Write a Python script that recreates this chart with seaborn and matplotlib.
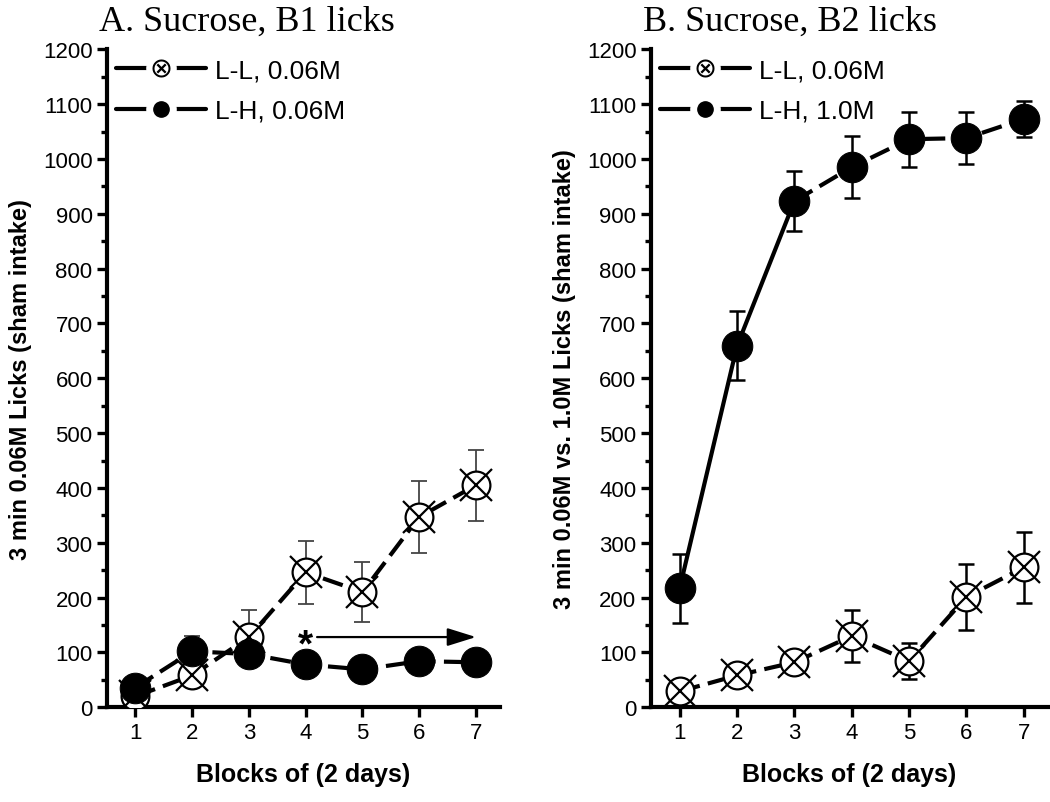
import numpy as np
import pandas as pd
import seaborn as sns
import matplotlib.pyplot as plt
from matplotlib.lines import Line2D
from matplotlib.legend_handler import HandlerTuple
from matplotlib.ticker import MultipleLocator

# blocks of 2 days
blocks = [1, 2, 3, 4, 5, 6, 7]

# panel A, B1 licks
a_ll_mean = [20, 58, 128, 246, 210, 347, 405]
a_ll_sem = [15, 20, 50, 57, 55, 65, 65]
a_lh_mean = [36, 102, 97, 78, 69, 84, 82]
a_lh_sem = [12, 28, 10, 8, 8, 8, 8]

# panel B, B2 licks
b_ll_mean = [29, 58, 82, 130, 84, 201, 255]
b_ll_sem = [15, 17, 10, 48, 33, 60, 64]
b_lh_mean = [217, 659, 923, 985, 1036, 1038, 1073]
b_lh_sem = [63, 63, 55, 57, 50, 48, 33]

titles = ["A. Sucrose, B1 licks", "B. Sucrose, B2 licks"]
ylabels = ["3 min 0.06M Licks (sham intake)",
           "3 min 0.06M vs. 1.0M Licks (sham intake)"]
legend_labels = [["L-L, 0.06M", "L-H, 0.06M"], ["L-L, 0.06M", "L-H, 1.0M"]]

sns.set_theme(style="ticks")
plt.rcParams['font.family'] = ['Liberation Sans', 'DejaVu Sans']
plt.rcParams.update({'text.color': 'black', 'axes.labelcolor': 'black',
                     'axes.edgecolor': 'black', 'xtick.color': 'black',
                     'ytick.color': 'black'})

DASH = (0, (5, 2))
LW = 3.0


def open_markers(ax, x, y):
    sns.lineplot(x=x, y=y, ax=ax, linestyle='none', marker='o', markersize=20,
                 markerfacecolor='white', markeredgecolor='black', markeredgewidth=1.6,
                 zorder=4)
    ax.plot(x, y, linestyle='none', marker='x', markersize=23, color='black',
            markeredgewidth=1.6, zorder=5)


def filled_markers(ax, x, y):
    sns.lineplot(x=x, y=y, ax=ax, linestyle='none', marker='o', markersize=22,
                 markerfacecolor='black', markeredgecolor='black', zorder=4)


def errbars(ax, x, y, e, color, lw):
    ax.errorbar(x, y, yerr=e, fmt='none', ecolor=color, elinewidth=lw,
                capsize=6, capthick=lw, zorder=3)


def style_axis(ax, title, ylabel, labels):
    ax.set_xlim(0.5, 7.42)
    ax.set_ylim(0, 1200)
    ax.set_xticks(blocks)
    ax.set_yticks(range(0, 1201, 100))
    ax.yaxis.set_minor_locator(MultipleLocator(50))
    sns.despine(ax=ax)
    for s in ['left', 'bottom']:
        ax.spines[s].set_linewidth(3)
        ax.spines[s].set_color('black')
    ax.tick_params(axis='both', which='major', direction='out', length=7, width=2.4,
                   labelsize=16, color='black', labelcolor='black')
    ax.tick_params(axis='y', which='minor', direction='out', length=4, width=2.4,
                   color='black')
    ax.set_xlabel("Blocks of (2 days)", fontsize=18, fontweight='bold', labelpad=14)
    ax.set_ylabel(ylabel, fontsize=17, fontweight='bold', labelpad=8)
    ax.set_title(title, loc='left', x=-0.02, pad=14, fontsize=26,
                 family=['Liberation Serif'])
    ax.set_facecolor('white')

    line = Line2D([], [], color='black', lw=LW)
    gap = Line2D([], [], linestyle='none', marker='o', markersize=21,
                 markerfacecolor='white', markeredgecolor='white')
    h_ll = (line, gap, Line2D([], [], linestyle='none', marker=r'$\otimes$',
                               markersize=13, color='black', markeredgewidth=0))
    h_lh = (line, gap, Line2D([], [], linestyle='none', marker='o', markersize=11,
                               color='black'))
    ax.legend([h_ll, h_lh], labels,
              handler_map={tuple: HandlerTuple(ndivide=1, pad=0)},
              loc='upper left', bbox_to_anchor=(0.0, 1.0), frameon=False,
              fontsize=19, handlelength=3.4, handletextpad=0.35, labelspacing=0.62,
              borderaxespad=0.15, borderpad=0.2)


fig = plt.figure(figsize=(10.5, 8.03), dpi=100)
fig.patch.set_facecolor('white')
axA = fig.add_axes([0.102, 0.118, 0.374, 0.8194])
axB = fig.add_axes([0.620, 0.118, 0.378, 0.8194])

# panel A
sns.lineplot(x=blocks, y=a_ll_mean, ax=axA, color='black', lw=LW, linestyle=DASH, zorder=2)
sns.lineplot(x=blocks, y=a_lh_mean, ax=axA, color='black', lw=LW, linestyle=DASH, zorder=2)
errbars(axA, blocks, a_ll_mean, a_ll_sem, '#444444', 1.3)
errbars(axA, blocks, a_lh_mean, a_lh_sem, '#444444', 1.3)
open_markers(axA, blocks, a_ll_mean)
filled_markers(axA, blocks, a_lh_mean)
axA.text(4.0, 112, "*", fontsize=28, fontweight='bold', ha='center', va='center')
axA.annotate("", xy=(7.0, 128), xytext=(4.2, 128),
             arrowprops=dict(arrowstyle='-|>,head_length=0.8,head_width=0.25',
                             color='black', lw=1.6,
                             mutation_scale=22, shrinkA=0, shrinkB=0))
style_axis(axA, titles[0], ylabels[0], legend_labels[0])

# panel B
sns.lineplot(x=blocks, y=b_ll_mean, ax=axB, color='black', lw=LW, linestyle=DASH, zorder=2)
sns.lineplot(x=blocks[:3], y=b_lh_mean[:3], ax=axB, color='black', lw=LW, linestyle='-', zorder=2)
sns.lineplot(x=blocks[2:], y=b_lh_mean[2:], ax=axB, color='black', lw=LW, linestyle=DASH, zorder=2)
errbars(axB, blocks, b_ll_mean, b_ll_sem, 'black', 1.8)
errbars(axB, blocks, b_lh_mean, b_lh_sem, 'black', 1.8)
open_markers(axB, blocks, b_ll_mean)
filled_markers(axB, blocks, b_lh_mean)
style_axis(axB, titles[1], ylabels[1], legend_labels[1])

fig.savefig("out.png", dpi=100, facecolor='white')
